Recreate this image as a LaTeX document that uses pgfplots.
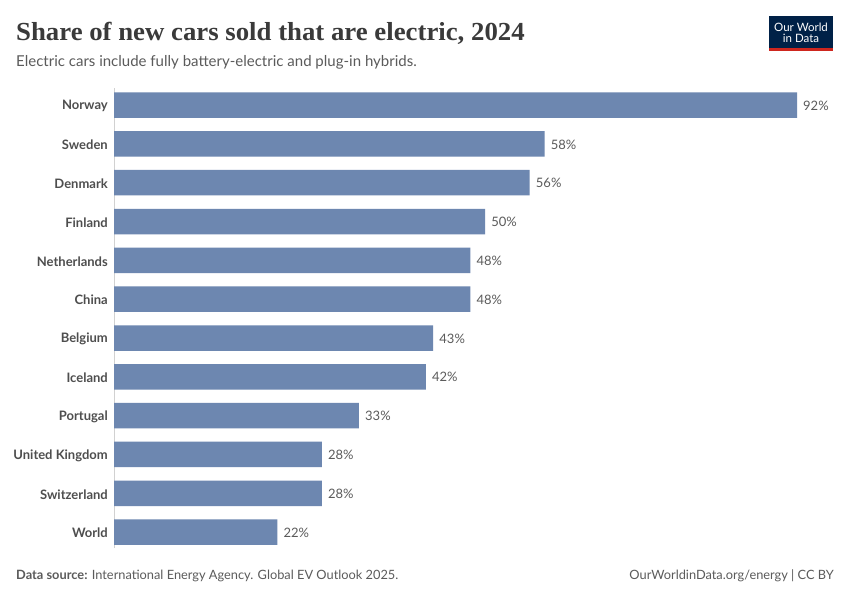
\documentclass[border=0pt]{standalone}
\usepackage{fontspec}
\setmainfont{Lato}
\newfontfamily\titlefont{Liberation Serif}
\usepackage{pgfplots}
\pgfplotsset{compat=1.18}
\definecolor{barblue}{HTML}{6D87B0}
\definecolor{txt}{HTML}{5B5B5B}
\definecolor{lbl}{HTML}{4E4E4E}
\definecolor{ttl}{HTML}{3A3A3A}
\definecolor{owidnavy}{HTML}{002147}
\definecolor{owidred}{HTML}{CE261E}
\begin{document}
\begin{tikzpicture}[x=1pt,y=1pt]
\fill[white] (0,0) rectangle (850,-600);
% title
\node[anchor=base west, inner sep=0, text=ttl, xscale=1.03] at (16,-40) {\titlefont\bfseries\fontsize{26}{28}\selectfont Share of new cars sold that are electric, 2024};
\node[anchor=base west, inner sep=0, text=txt] at (16,-66) {\fontsize{15}{17}\selectfont Electric cars include fully battery-electric and plug-in hybrids.};
% logo
\fill[owidnavy] (769,-16) rectangle (833,-48);
\fill[owidred] (769,-48) rectangle (833,-51);
\node[anchor=base, inner sep=0, text=white] at (801,-31) {\fontsize{11.5}{12}\selectfont Our World};
\node[anchor=base, inner sep=0, text=white] at (801,-42) {\fontsize{11.5}{12}\selectfont in Data};
% footer
\node[anchor=base west, inner sep=0, text=txt] at (16,-579) {\fontsize{12.8}{15}\selectfont \textbf{Data source:} International Energy Agency. Global EV Outlook 2025.};
\node[anchor=base east, inner sep=0, text=txt] at (834,-579) {\fontsize{12.8}{15}\selectfont OurWorldinData.org/energy | CC BY};
\begin{axis}[
  at={(114pt,-548pt)}, anchor=south west,
  scale only axis, width=683pt, height=460pt,
  xmin=0, xmax=92, ymin=-0.41, ymax=11.44,
  axis x line=none, axis y line*=left,
  y axis line style={draw=black!18, line width=1pt, -},
  major tick length=0pt,
  ytick={0,...,11},
  yticklabels={World,Switzerland,United Kingdom,Portugal,Iceland,Belgium,China,Netherlands,Finland,Denmark,Sweden,Norway},
  yticklabel style={font=\bfseries\fontsize{13}{15}\selectfont, text=lbl, inner sep=0pt, xshift=-6pt, yshift=-1pt},
  /pgf/number format/assume math mode=true,
  clip=false,
]
\addplot[xbar, bar width=25.5pt, fill=barblue, draw=none,
  point meta=x,
  nodes near coords={\pgfmathprintnumber[fixed,precision=0,assume math mode=true]{\pgfplotspointmeta}\%},
  nodes near coords align=horizontal,
  every node near coord/.style={font=\fontsize{13}{15}\selectfont, text=txt, inner sep=0pt, xshift=6pt, yshift=-0.5pt, anchor=west}]
coordinates {(22,0) (28,1) (28,2) (33,3) (42,4) (43,5) (48,6) (48,7) (50,8) (56,9) (58,10) (92,11)};
\end{axis}
\end{tikzpicture}
\end{document}
